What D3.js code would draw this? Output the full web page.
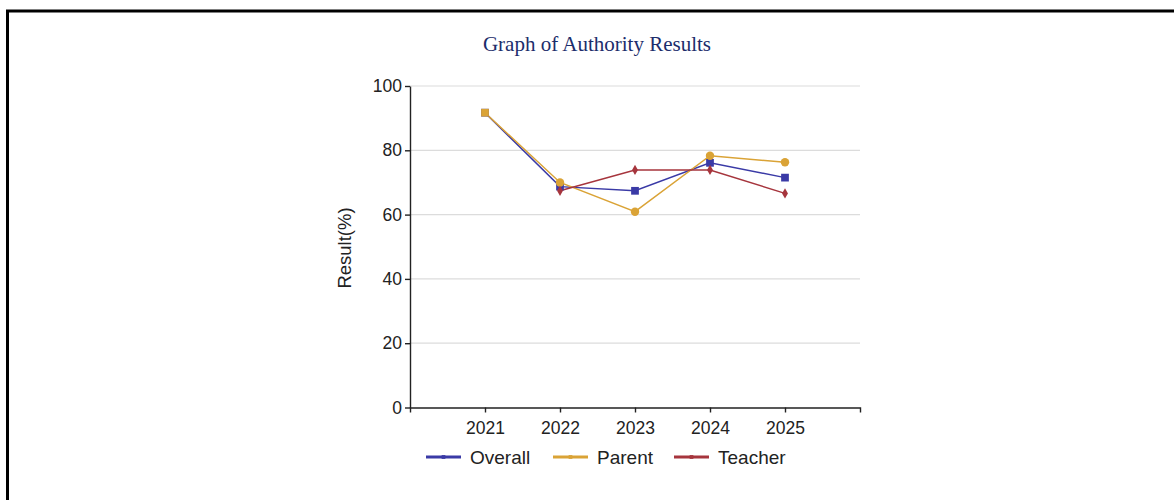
<!DOCTYPE html>
<html>
<head>
<meta charset="utf-8">
<script src="https://cdn.jsdelivr.net/npm/d3@7/dist/d3.min.js"></script>
<style>
  body { margin: 0; background: #fff; }
  svg { display: block; }
</style>
</head>
<body>
<svg id="chart" width="1174" height="500"></svg>
<script>
const years = ["2021", "2022", "2023", "2024", "2025"];
const overall = [91.7, 68.7, 67.4, 76.1, 71.5];
const parent = [91.7, 70.0, 60.9, 78.3, 76.3];
const teacher = [null, 67.4, 73.9, 73.9, 66.6];
const yTicks = [0, 20, 40, 60, 80, 100];
const seriesNames = ["Overall", "Parent", "Teacher"];

const series = [
  {name: seriesNames[0], values: overall, color: "#3a3aa6", symbol: d3.symbolSquare, size: 60},
  {name: seriesNames[1], values: parent, color: "#daa336", symbol: d3.symbolCircle, size: 56},
  {name: seriesNames[2], values: teacher, color: "#a6353d", symbol: d3.symbolDiamond, size: 30}
];

const svg = d3.select("#chart");
const font = "'Liberation Sans', Arial, sans-serif";

// frame
svg.append("rect")
  .attr("x", 7.5).attr("y", 11)
  .attr("width", 1300).attr("height", 600)
  .attr("fill", "none").attr("stroke", "#000").attr("stroke-width", 3);

svg.append("text")
  .attr("x", 597).attr("y", 51)
  .attr("text-anchor", "middle")
  .style("font-family", "'Liberation Serif', 'Times New Roman', serif")
  .style("font-size", "21px")
  .style("fill", "#1c2d6b")
  .text("Graph of Authority Results");

const x = d3.scalePoint().domain(years).range([410, 860]).padding(1);
const y = d3.scaleLinear().domain([0, 100]).range([407.5, 86]);

// grid
svg.append("g").selectAll("line").data(yTicks.slice(1)).join("line")
  .attr("x1", 410).attr("x2", 860)
  .attr("y1", d => y(d)).attr("y2", d => y(d))
  .attr("stroke", "#dcdcdc").attr("stroke-width", 1.2);

const yAxis = svg.append("g")
  .attr("transform", "translate(410,0)")
  .call(d3.axisLeft(y).tickValues(yTicks).tickSize(5).tickSizeOuter(0).tickPadding(3));
const xAxis = svg.append("g")
  .attr("transform", "translate(0,407.5)")
  .call(d3.axisBottom(x).tickSize(5).tickSizeOuter(5).tickPadding(9));

[yAxis, xAxis].forEach(g => {
  g.selectAll("path, line").attr("stroke", "#222").attr("stroke-width", 1.4);
  g.selectAll("text")
    .style("font-family", font).style("font-size", "17.5px").attr("fill", "#222");
});

svg.append("text")
  .attr("transform", "translate(351,248) rotate(-90)")
  .attr("text-anchor", "middle")
  .style("font-family", font).style("font-size", "18.5px").attr("fill", "#222")
  .text("Result(%)");

const line = d3.line()
  .defined(d => d != null)
  .x((d, i) => x(years[i]))
  .y(d => y(d));

series.forEach(s => {
  svg.append("path")
    .datum(s.values)
    .attr("d", line)
    .attr("fill", "none")
    .attr("stroke", s.color)
    .attr("stroke-width", 1.5);
});

series.forEach(s => {
  svg.append("g").selectAll("path")
    .data(s.values.map((v, i) => ({v, i})).filter(d => d.v != null))
    .join("path")
    .attr("transform", d => `translate(${x(years[d.i])},${y(d.v)})`)
    // where a point sits exactly on the Overall one it keeps the square shape
    .attr("d", d => {
      const same = s.name !== "Overall" && overall[d.i] === d.v;
      return d3.symbol(same ? d3.symbolSquare : s.symbol, same ? 60 : s.size)();
    })
    .attr("fill", s.color);
});

// legend
const legendX = [426, 553, 674];
const leg = svg.append("g").selectAll("g").data(series).join("g")
  .attr("transform", (d, i) => `translate(${legendX[i]},457)`);
leg.append("line")
  .attr("x1", 0).attr("x2", 35)
  .attr("stroke", d => d.color).attr("stroke-width", 3);
leg.append("path")
  .attr("transform", "translate(17.5,0)")
  .attr("d", d3.symbol(d3.symbolSquare, 14)())
  .attr("fill", d => d.color);
leg.append("text")
  .attr("x", 44).attr("y", 6.5)
  .style("font-family", font).style("font-size", "19px").attr("fill", "#222")
  .text(d => d.name);
</script>
</body>
</html>
